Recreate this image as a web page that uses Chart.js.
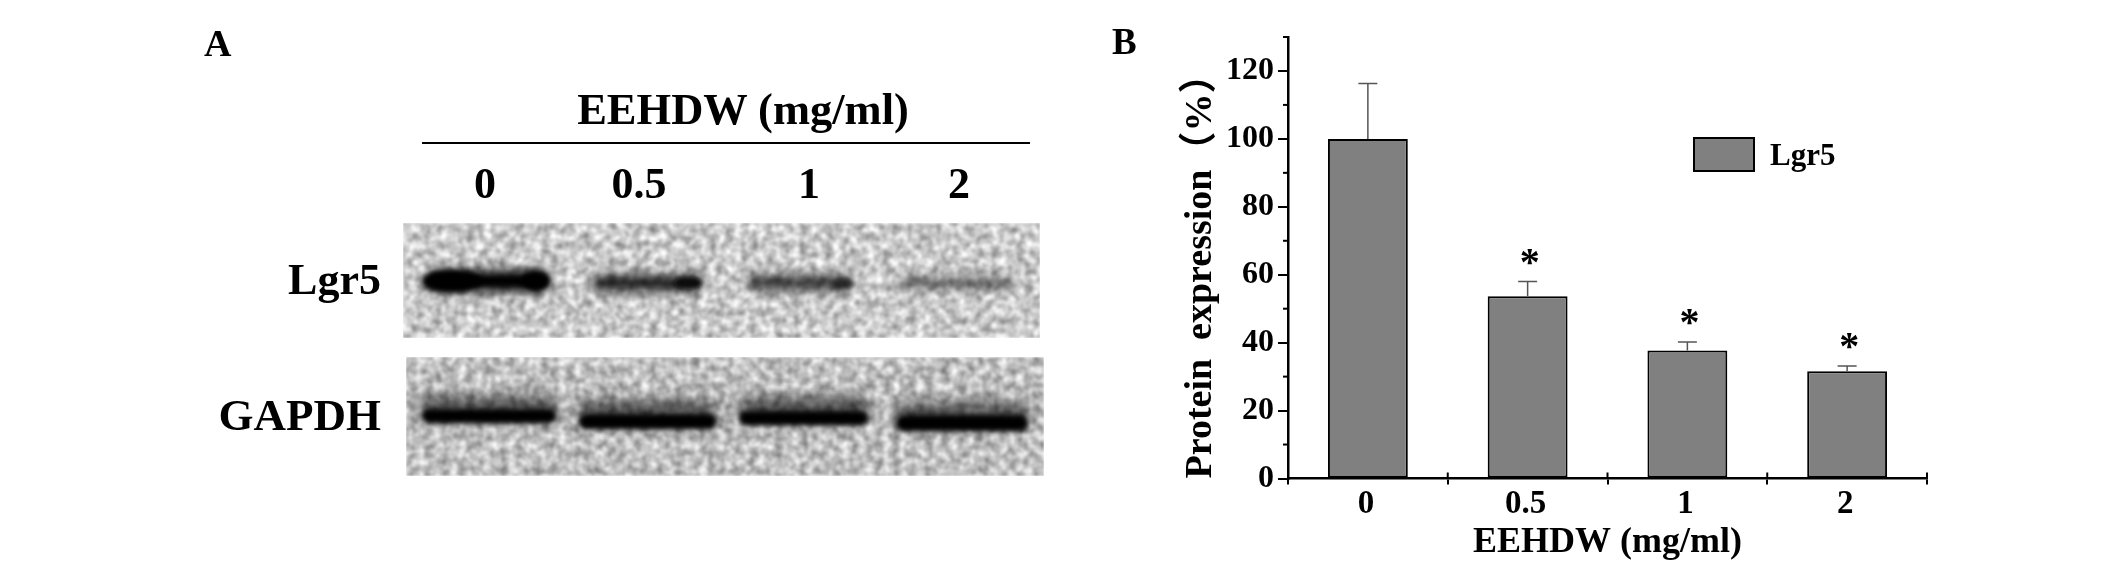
<!DOCTYPE html>
<html>
<head>
<meta charset="utf-8">
<title>Lgr5 protein expression</title>
<script src="https://cdn.jsdelivr.net/npm/chart.js@4/dist/chart.umd.min.js"></script>
<style>
    html, body { margin: 0; padding: 0; background: #fff; }
    #wrap { position: relative; width: 2126px; height: 575px; overflow: hidden; }
    #grafico { position: absolute; left: 0; top: 0; }
    .txt { position: absolute; font-family: "Liberation Serif", serif; font-weight: bold; color: #000; white-space: pre; line-height: 1; }
    .ctr { transform: translateX(-50%); }
    .der { transform: translateX(-100%); }
    svg { position: absolute; overflow: hidden; }
</style>
</head>
<body>
<div id="wrap">
    <!-- Panel A: western blot -->
    <svg style="left:0;top:0" width="2126" height="575">
        <defs>
            <filter id="grano1" x="0" y="0" width="100%" height="100%" color-interpolation-filters="sRGB">
                <feTurbulence type="fractalNoise" baseFrequency="0.12" numOctaves="2" seed="7"/>
                <feColorMatrix type="matrix" values="0 0 0 0.72 0.43  0 0 0 0.72 0.43  0 0 0 0.72 0.43  0 0 0 0 1"/>
                <feGaussianBlur stdDeviation="0.8"/>
            </filter>
            <filter id="grano2" x="0" y="0" width="100%" height="100%" color-interpolation-filters="sRGB">
                <feTurbulence type="fractalNoise" baseFrequency="0.12" numOctaves="2" seed="23"/>
                <feColorMatrix type="matrix" values="0 0 0 0.72 0.39  0 0 0 0.72 0.39  0 0 0 0.72 0.39  0 0 0 0 1"/>
                <feGaussianBlur stdDeviation="0.8"/>
            </filter>
            <filter id="b2" x="-20%" y="-150%" width="140%" height="400%"><feGaussianBlur stdDeviation="2.5"/></filter>
            <filter id="b4" x="-20%" y="-150%" width="140%" height="400%"><feGaussianBlur stdDeviation="4.5"/></filter>
            <filter id="b7" x="-20%" y="-150%" width="140%" height="400%"><feGaussianBlur stdDeviation="7"/></filter>
            <clipPath id="corte1"><rect x="403" y="223" width="637" height="115"/></clipPath>
            <clipPath id="corte2"><rect x="406" y="357" width="638" height="119"/></clipPath>
        </defs>

        <rect x="403" y="223" width="637" height="115" filter="url(#grano1)"/>
        <g clip-path="url(#corte1)" style="mix-blend-mode:multiply">
            <rect x="425" y="268" width="125" height="26" rx="10" fill="#555" filter="url(#b4)"/>
            <ellipse cx="452" cy="281" rx="30" ry="11" fill="#000" filter="url(#b2)"/>
            <rect x="430" y="275" width="118" height="12" rx="6" fill="#000" filter="url(#b2)"/>
            <ellipse cx="535" cy="281" rx="14" ry="10" fill="#000" filter="url(#b2)"/>

            <rect x="592" y="272" width="110" height="22" rx="9" fill="#777" filter="url(#b4)"/>
            <rect x="596" y="279" width="104" height="8" rx="4" fill="#333" filter="url(#b2)"/>
            <ellipse cx="688" cy="283" rx="14" ry="6" fill="#111" filter="url(#b2)"/>

            <rect x="747" y="273" width="106" height="20" rx="9" fill="#888" filter="url(#b4)"/>
            <rect x="752" y="279" width="100" height="8" rx="4" fill="#555" filter="url(#b2)"/>
            <ellipse cx="842" cy="283" rx="10" ry="5" fill="#333" filter="url(#b2)"/>

            <rect x="898" y="275" width="114" height="16" rx="8" fill="#aaa" filter="url(#b4)"/>
            <rect x="905" y="280" width="106" height="6" rx="3" fill="#888" filter="url(#b2)"/>
        </g>

        <rect x="406" y="357" width="638" height="119" filter="url(#grano2)"/>
        <g clip-path="url(#corte2)" style="mix-blend-mode:multiply">
            <rect x="418" y="396" width="140" height="24" rx="10" fill="#666" filter="url(#b7)"/>
            <rect x="578" y="400" width="140" height="26" rx="10" fill="#666" filter="url(#b7)"/>
            <rect x="738" y="397" width="132" height="26" rx="10" fill="#666" filter="url(#b7)"/>
            <rect x="895" y="402" width="135" height="26" rx="10" fill="#666" filter="url(#b7)"/>
            <rect x="422" y="409" width="134" height="14" rx="7" fill="#000" filter="url(#b2)"/>
            <rect x="579" y="414" width="137" height="15" rx="7" fill="#000" filter="url(#b2)"/>
            <rect x="739" y="411" width="129" height="14" rx="7" fill="#000" filter="url(#b2)"/>
            <rect x="896" y="415" width="132" height="16" rx="8" fill="#000" filter="url(#b2)"/>
        </g>

        <rect x="422" y="142" width="608" height="2" fill="#000"/>
    </svg>

    <div class="txt" style="left:204px;top:24px;font-size:38px">A</div>
    <div class="txt" style="left:1112px;top:23px;font-size:37px">B</div>
    <div class="txt ctr" style="left:743px;top:87px;font-size:44.5px">EEHDW (mg/ml)</div>
    <div class="txt ctr" style="left:485px;top:162px;font-size:44px">0</div>
    <div class="txt ctr" style="left:639px;top:162px;font-size:44px">0.5</div>
    <div class="txt ctr" style="left:809px;top:162px;font-size:44px">1</div>
    <div class="txt ctr" style="left:959px;top:162px;font-size:44px">2</div>
    <div class="txt der" style="left:381px;top:258px;font-size:44px">Lgr5</div>
    <div class="txt der" style="left:381px;top:393px;font-size:45px">GAPDH</div>

    <canvas id="grafico" width="2126" height="575"></canvas>
</div>

<script>
    // Datos (panel B)
    const categorias = ['0', '0.5', '1', '2'];
    const lgr5 = [100, 53.7, 37.7, 31.6];
    const errores = [16.3, 4.3, 2.5, 1.5];
    const marcas = ['', '*', '*', '*'];
    const ticksMayores = [0, 20, 40, 60, 80, 100, 120];
    const ticksMenores = [10, 30, 50, 70, 90, 110, 130];
    const serieNombre = 'Lgr5';

    const fuente = '"Liberation Serif", serif';

    // Barras de error, asteriscos, ticks menores y leyenda
    const extras = {
        id: 'extras',
        afterDatasetsDraw(chart) {
            const ctx = chart.ctx;
            const x = chart.scales.x;
            const y = chart.scales.y;
            const area = chart.chartArea;
            ctx.save();

            // barras de error
            ctx.strokeStyle = '#555';
            ctx.lineWidth = 1.5;
            lgr5.forEach(function (valor, i) {
                const px = x.getPixelForValue(i);
                const arriba = y.getPixelForValue(valor + errores[i]);
                ctx.beginPath();
                ctx.moveTo(px, y.getPixelForValue(valor));
                ctx.lineTo(px, arriba);
                ctx.moveTo(px - 9.5, arriba);
                ctx.lineTo(px + 9.5, arriba);
                ctx.stroke();
            });

            // asteriscos
            ctx.fillStyle = '#000';
            ctx.font = 'bold 40px ' + fuente;
            ctx.textAlign = 'center';
            ctx.textBaseline = 'alphabetic';
            marcas.forEach(function (m, i) {
                if (!m) return;
                const px = x.getPixelForValue(i) + 2;
                ctx.fillText(m, px, y.getPixelForValue(lgr5[i] + errores[i]) - 7);
            });

            // ticks menores del eje y
            ctx.strokeStyle = '#000';
            ctx.lineWidth = 2;
            ticksMenores.forEach(function (v) {
                const py = y.getPixelForValue(v);
                ctx.beginPath();
                ctx.moveTo(area.left - 5, py);
                ctx.lineTo(area.left, py);
                ctx.stroke();
            });

            // parte interior de los ticks del eje x
            for (let i = 0; i <= categorias.length; i++) {
                const px = area.left + i * (area.right - area.left) / categorias.length;
                ctx.beginPath();
                ctx.moveTo(px, area.bottom - 6);
                ctx.lineTo(px, area.bottom);
                ctx.stroke();
            }

            // leyenda
            ctx.fillStyle = '#808080';
            ctx.strokeStyle = '#000';
            ctx.lineWidth = 2;
            ctx.fillRect(1694, 138, 60, 33);
            ctx.strokeRect(1694, 138, 60, 33);
            ctx.fillStyle = '#000';
            ctx.font = 'bold 31px ' + fuente;
            ctx.textAlign = 'left';
            ctx.fillText(serieNombre, 1770, 165);
            ctx.restore();
        }
    };

    new Chart(document.getElementById('grafico').getContext('2d'), {
        type: 'bar',
        data: {
            labels: categorias,
            datasets: [{
                label: serieNombre,
                data: lgr5,
                backgroundColor: '#808080',
                borderColor: '#000',
                borderWidth: 2,
                borderSkipped: false,
                categoryPercentage: 1,
                barPercentage: 0.5
            }]
        },
        options: {
            responsive: false,
            animation: false,
            layout: { padding: { left: 1178, right: 199, top: 37, bottom: 0 } },
            plugins: {
                legend: { display: false },
                tooltip: { enabled: false }
            },
            scales: {
                x: {
                    afterFit(scale) { scale.height = 96.5; },
                    border: { color: '#000', width: 2.5 },
                    grid: { drawOnChartArea: false, color: '#000', tickColor: '#000', tickLength: 6, lineWidth: 2 },
                    ticks: { color: '#000', padding: 0, labelOffset: -2, font: { family: fuente, weight: 'bold', size: 33 } },
                    title: {
                        display: true,
                        text: 'EEHDW (mg/ml)',
                        color: '#000',
                        padding: { top: 0, bottom: 11 },
                        font: { family: fuente, weight: 'bold', size: 36 }
                    }
                },
                y: {
                    min: 0,
                    max: 130,
                    afterFit(scale) { scale.width = 110; },
                    afterBuildTicks(scale) { scale.ticks = ticksMayores.map(function (v) { return { value: v }; }); },
                    border: { color: '#000', width: 2.5 },
                    grid: { drawOnChartArea: false, color: '#000', tickColor: '#000', tickLength: 10, lineWidth: 2 },
                    ticks: { color: '#000', padding: 4, font: { family: fuente, weight: 'bold', size: 32 } },
                    title: {
                        display: true,
                        text: 'Protein  expression（%）',
                        color: '#000',
                        align: 'start',
                        padding: 0,
                        font: { family: fuente + ', "Noto Sans CJK SC"', weight: 'bold', size: 38 }
                    }
                }
            }
        },
        plugins: [extras]
    });
</script>
</body>
</html>
